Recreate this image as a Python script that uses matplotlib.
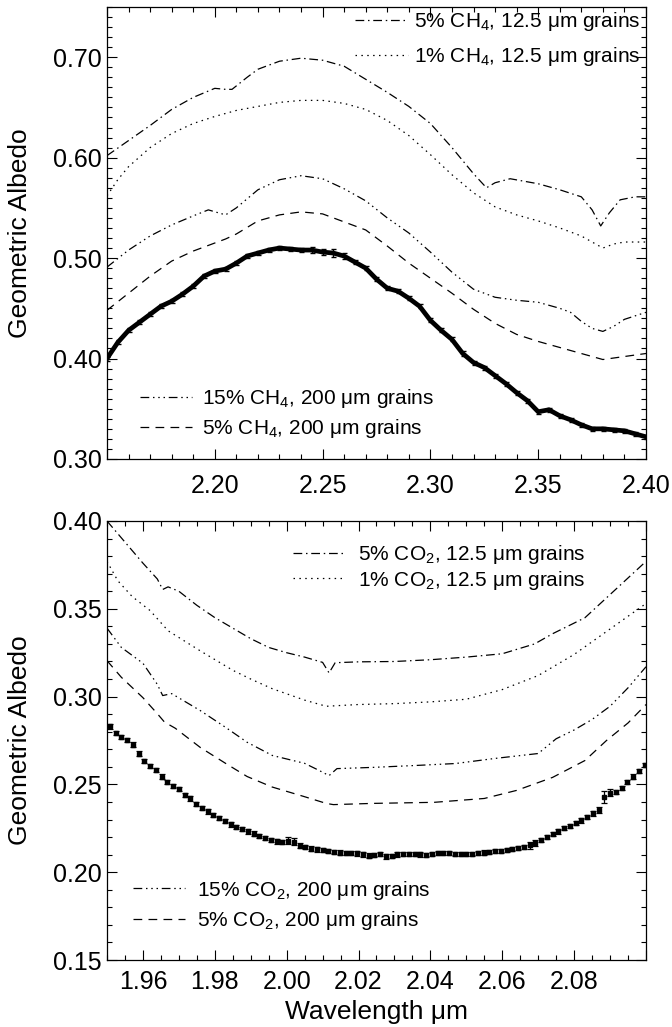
import numpy as np
import matplotlib.pyplot as plt
from matplotlib.ticker import MultipleLocator

plt.rcParams['font.family'] = ['Liberation Sans', 'DejaVu Sans']
plt.rcParams['mathtext.fontset'] = 'custom'
plt.rcParams['mathtext.rm'] = 'Liberation Sans'
plt.rcParams['mathtext.it'] = 'Liberation Sans:italic'
plt.rcParams['mathtext.bf'] = 'Liberation Sans:bold'

# ---------------- верхня панель: область CH4 ----------------
ch4_wl = [2.150, 2.155, 2.160, 2.165, 2.170, 2.175, 2.180, 2.185, 2.190, 2.195,
          2.200, 2.205, 2.210, 2.215, 2.220, 2.225, 2.230, 2.235, 2.240, 2.245,
          2.250, 2.255, 2.260, 2.265, 2.270, 2.275, 2.280, 2.285, 2.290, 2.295,
          2.300, 2.305, 2.310, 2.315, 2.320, 2.325, 2.330, 2.335, 2.340, 2.345,
          2.350, 2.355, 2.360, 2.365, 2.370, 2.375, 2.380, 2.385, 2.390, 2.395, 2.400]
ch4_obs = [0.400, 0.416, 0.428, 0.436, 0.444, 0.452, 0.457, 0.464, 0.472, 0.482,
           0.487, 0.489, 0.495, 0.502, 0.505, 0.508, 0.510, 0.509, 0.508, 0.508,
           0.506, 0.505, 0.502, 0.496, 0.490, 0.479, 0.470, 0.467, 0.460, 0.452,
           0.438, 0.428, 0.419, 0.405, 0.396, 0.391, 0.383, 0.375, 0.366, 0.358,
           0.347, 0.349, 0.343, 0.339, 0.334, 0.330, 0.330, 0.329, 0.328, 0.325, 0.322]
ch4_err = [0.002, 0.002, 0.002, 0.002, 0.002, 0.002, 0.002, 0.002, 0.002, 0.002,
           0.002, 0.002, 0.002, 0.002, 0.002, 0.002, 0.002, 0.002, 0.002, 0.003,
           0.003, 0.004, 0.003, 0.002, 0.002, 0.002, 0.002, 0.002, 0.002, 0.002,
           0.002, 0.002, 0.002, 0.002, 0.002, 0.002, 0.002, 0.002, 0.002, 0.002,
           0.002, 0.002, 0.002, 0.002, 0.002, 0.002, 0.002, 0.002, 0.002, 0.002, 0.002]

# 5% CH4, 12.5 мкм
ch4_a_wl = [2.150, 2.160, 2.170, 2.180, 2.190, 2.200, 2.205, 2.208, 2.215, 2.220,
            2.230, 2.240, 2.250, 2.260, 2.270, 2.280, 2.290, 2.300, 2.310, 2.320,
            2.326, 2.330, 2.337, 2.350, 2.360, 2.370, 2.375, 2.379, 2.383, 2.388, 2.395, 2.400]
ch4_a = [0.602, 0.617, 0.632, 0.648, 0.660, 0.669, 0.668, 0.668, 0.680, 0.688,
         0.696, 0.699, 0.697, 0.691, 0.678, 0.665, 0.651, 0.634, 0.610, 0.584,
         0.570, 0.575, 0.579, 0.574, 0.568, 0.561, 0.548, 0.532, 0.545, 0.558, 0.561, 0.561]
# 1% CH4, 12.5 мкм
ch4_b_wl = [2.150, 2.155, 2.160, 2.170, 2.180, 2.190, 2.200, 2.210, 2.220, 2.230,
            2.240, 2.250, 2.260, 2.270, 2.280, 2.290, 2.300, 2.310, 2.320, 2.330,
            2.340, 2.350, 2.360, 2.370, 2.380, 2.385, 2.390, 2.400]
ch4_b = [0.562, 0.578, 0.591, 0.610, 0.624, 0.634, 0.641, 0.647, 0.651, 0.655,
         0.657, 0.657, 0.654, 0.648, 0.637, 0.622, 0.603, 0.583, 0.565, 0.551,
         0.543, 0.537, 0.530, 0.522, 0.510, 0.514, 0.516, 0.516]
# 15% CH4, 200 мкм
ch4_c_wl = [2.150, 2.160, 2.170, 2.180, 2.190, 2.197, 2.205, 2.210, 2.220, 2.230,
            2.240, 2.250, 2.260, 2.270, 2.280, 2.290, 2.300, 2.310, 2.320, 2.330,
            2.340, 2.350, 2.360, 2.365, 2.370, 2.375, 2.380, 2.385, 2.390, 2.400]
ch4_c = [0.491, 0.508, 0.522, 0.533, 0.542, 0.548, 0.543, 0.550, 0.568, 0.578,
         0.582, 0.579, 0.569, 0.557, 0.540, 0.525, 0.506, 0.486, 0.469, 0.461,
         0.458, 0.456, 0.450, 0.446, 0.437, 0.430, 0.427, 0.432, 0.439, 0.446]
# 5% CH4, 200 мкм
ch4_d_wl = [2.150, 2.160, 2.170, 2.180, 2.190, 2.200, 2.205, 2.210, 2.220, 2.230,
            2.240, 2.250, 2.260, 2.270, 2.280, 2.290, 2.300, 2.310, 2.320, 2.330,
            2.340, 2.350, 2.360, 2.370, 2.380, 2.390, 2.400]
ch4_d = [0.448, 0.465, 0.482, 0.497, 0.507, 0.515, 0.519, 0.524, 0.537, 0.543,
         0.546, 0.544, 0.536, 0.528, 0.512, 0.495, 0.480, 0.465, 0.449, 0.435,
         0.424, 0.417, 0.411, 0.405, 0.399, 0.402, 0.405]

# ---------------- нижня панель: область CO2 ----------------
co2_wl = [1.9508, 1.9524, 1.9540, 1.9556, 1.9572, 1.9588, 1.9604, 1.9620, 1.9636, 1.9652,
          1.9668, 1.9684, 1.9700, 1.9716, 1.9732, 1.9748, 1.9764, 1.9780, 1.9796, 1.9812,
          1.9828, 1.9844, 1.9860, 1.9876, 1.9892, 1.9908, 1.9924, 1.9940, 1.9956, 1.9972,
          1.9988, 2.0004, 2.0020, 2.0036, 2.0052, 2.0068, 2.0084, 2.0100, 2.0116, 2.0132,
          2.0148, 2.0164, 2.0180, 2.0196, 2.0212, 2.0228, 2.0244, 2.0260, 2.0276, 2.0292,
          2.0308, 2.0324, 2.0340, 2.0356, 2.0372, 2.0388, 2.0404, 2.0420, 2.0436, 2.0452,
          2.0468, 2.0484, 2.0500, 2.0516, 2.0532, 2.0548, 2.0564, 2.0580, 2.0596, 2.0612,
          2.0628, 2.0644, 2.0660, 2.0676, 2.0692, 2.0708, 2.0724, 2.0740, 2.0756, 2.0772,
          2.0788, 2.0804, 2.0820, 2.0836, 2.0852, 2.0868, 2.0884, 2.0900, 2.0916, 2.0932,
          2.0948, 2.0964, 2.0980, 2.0996]
co2_obs = [0.2830, 0.2794, 0.2770, 0.2751, 0.2727, 0.2676, 0.2634, 0.2606, 0.2584, 0.2545,
           0.2513, 0.2492, 0.2472, 0.2441, 0.2420, 0.2390, 0.2366, 0.2346, 0.2328, 0.2309,
           0.2291, 0.2272, 0.2258, 0.2245, 0.2232, 0.2220, 0.2208, 0.2195, 0.2185, 0.2175,
           0.2170, 0.2178, 0.2174, 0.2152, 0.2142, 0.2135, 0.2130, 0.2126, 0.2121, 0.2115,
           0.2112, 0.2110, 0.2108, 0.2107, 0.2101, 0.2095, 0.2096, 0.2102, 0.2090, 0.2093,
           0.2101, 0.2105, 0.2103, 0.2104, 0.2101, 0.2097, 0.2102, 0.2110, 0.2111, 0.2108,
           0.2105, 0.2103, 0.2104, 0.2106, 0.2108, 0.2112, 0.2115, 0.2119, 0.2122, 0.2127,
           0.2131, 0.2137, 0.2144, 0.2153, 0.2168, 0.2184, 0.2200, 0.2216, 0.2232, 0.2250,
           0.2265, 0.2281, 0.2295, 0.2314, 0.2335, 0.2355, 0.2430, 0.2452, 0.2458, 0.2478,
           0.2516, 0.2545, 0.2575, 0.2610]
co2_err = [0.0012, 0.0012, 0.0012, 0.0012, 0.0012, 0.0012, 0.0012, 0.0012, 0.0012, 0.0012,
           0.0012, 0.0012, 0.0012, 0.0012, 0.0012, 0.0012, 0.0012, 0.0012, 0.0012, 0.0012,
           0.0012, 0.0012, 0.0012, 0.0012, 0.0012, 0.0012, 0.0012, 0.0012, 0.0012, 0.0012,
           0.0012, 0.0020, 0.0020, 0.0012, 0.0012, 0.0012, 0.0012, 0.0012, 0.0012, 0.0012,
           0.0012, 0.0012, 0.0012, 0.0012, 0.0012, 0.0012, 0.0012, 0.0012, 0.0012, 0.0012,
           0.0012, 0.0012, 0.0012, 0.0012, 0.0012, 0.0012, 0.0012, 0.0012, 0.0012, 0.0012,
           0.0012, 0.0012, 0.0012, 0.0012, 0.0012, 0.0012, 0.0012, 0.0012, 0.0012, 0.0012,
           0.0012, 0.0012, 0.0012, 0.0018, 0.0018, 0.0012, 0.0012, 0.0012, 0.0012, 0.0012,
           0.0012, 0.0012, 0.0012, 0.0012, 0.0012, 0.0018, 0.0035, 0.0020, 0.0012, 0.0012,
           0.0012, 0.0012, 0.0012, 0.0012]

# 5% CO2, 12.5 мкм
co2_e_wl = [1.950, 1.955, 1.960, 1.964, 1.9655, 1.967, 1.970, 1.975, 1.980, 1.985,
            1.990, 1.995, 2.000, 2.005, 2.010, 2.0118, 2.0135, 2.020, 2.030, 2.040,
            2.050, 2.060, 2.069, 2.074, 2.083, 2.091, 2.100]
co2_e = [0.400, 0.388, 0.376, 0.367, 0.361, 0.3625, 0.360, 0.352, 0.345, 0.339,
         0.333, 0.328, 0.325, 0.3225, 0.3195, 0.3135, 0.3193, 0.3198, 0.3200, 0.3210,
         0.3225, 0.3244, 0.3300, 0.3358, 0.3449, 0.3600, 0.3770]
# 1% CO2, 12.5 мкм
co2_f_wl = [1.950, 1.953, 1.957, 1.962, 1.967, 1.976, 1.985, 1.990, 1.996, 2.005,
            2.011, 2.020, 2.030, 2.040, 2.050, 2.060, 2.070, 2.080, 2.090, 2.100]
co2_f = [0.377, 0.366, 0.357, 0.349, 0.3375, 0.326, 0.315, 0.310, 0.3045, 0.298,
         0.2945, 0.2955, 0.2960, 0.2970, 0.2985, 0.3040, 0.3120, 0.3240, 0.3385, 0.3530]
# 15% CO2, 200 мкм
co2_g_wl = [1.950, 1.954, 1.960, 1.964, 1.9655, 1.968, 1.976, 1.983, 1.989, 1.996,
            2.005, 2.009, 2.0118, 2.014, 2.024, 2.036, 2.047, 2.058, 2.070, 2.075,
            2.080, 2.085, 2.090, 2.095, 2.100]
co2_g = [0.339, 0.328, 0.319, 0.307, 0.3006, 0.3017, 0.292, 0.2825, 0.274, 0.2665,
         0.262, 0.258, 0.255, 0.259, 0.2597, 0.2608, 0.2619, 0.2648, 0.2676, 0.2760,
         0.281, 0.287, 0.2945, 0.305, 0.317]
# 5% CO2, 200 мкм
co2_h_wl = [1.950, 1.954, 1.960, 1.964, 1.966, 1.969, 1.976, 1.983, 1.989, 1.996,
            2.005, 2.011, 2.013, 2.024, 2.041, 2.055, 2.064, 2.074, 2.083, 2.089,
            2.095, 2.100]
co2_h = [0.3205, 0.311, 0.2994, 0.2903, 0.2855, 0.2820, 0.271, 0.262, 0.2545, 0.2485,
         0.243, 0.2392, 0.2385, 0.2392, 0.2398, 0.242, 0.2466, 0.254, 0.2636, 0.275,
         0.285, 0.2955]

# стилі ліній (як у IDL)
dashdot = (0, (7, 3, 1.2, 3))
dashdot3 = (0, (7, 3, 1.2, 3, 1.2, 3, 1.2, 3))
dashed = (0, (7, 5))
dotted = (0, (1.2, 3.5))
lw = 0.9

fig = plt.figure(figsize=(6.72, 10.27), dpi=100)
ax1 = fig.add_axes([0.1592, 0.5531, 0.8021, 0.4401])
ax2 = fig.add_axes([0.1592, 0.0652, 0.8021, 0.4275])

# ---- верхня панель ----
la, = ax1.plot(ch4_a_wl, ch4_a, color='k', lw=lw, linestyle=dashdot,
               label='5% CH$_4$, 12.5 μm grains')
lb, = ax1.plot(ch4_b_wl, ch4_b, color='k', lw=lw, linestyle=dotted,
               label='1% CH$_4$, 12.5 μm grains')
lc, = ax1.plot(ch4_c_wl, ch4_c, color='k', lw=lw, linestyle=dashdot3,
               label='15% CH$_4$, 200 μm grains')
ld, = ax1.plot(ch4_d_wl, ch4_d, color='k', lw=lw, linestyle=dashed,
               label='5% CH$_4$, 200 μm grains')
ax1.errorbar(ch4_wl, ch4_obs, yerr=ch4_err, fmt='-', color='k', lw=3.4,
             elinewidth=1.0, capsize=1.8, capthick=1.0)

leg1 = ax1.legend(handles=[la, lb], loc='center right', bbox_to_anchor=(0.989, 0.929),
                  frameon=False, fontsize=15, handlelength=2.5, handletextpad=0.3,
                  labelspacing=0.6, borderpad=0, borderaxespad=0)
ax1.add_artist(leg1)
ax1.legend(handles=[lc, ld], loc='center left', bbox_to_anchor=(0.061, 0.1007),
           frameon=False, fontsize=15, handlelength=2.5, handletextpad=0.5,
           labelspacing=0.35, borderpad=0, borderaxespad=0)

ax1.set_xlim(2.15, 2.40)
ax1.set_ylim(0.30, 0.75)
ax1.set_xticks([2.15, 2.20, 2.25, 2.30, 2.35, 2.40])
ax1.set_xticklabels(['', '2.20', '2.25', '2.30', '2.35', '2.40'])
ax1.set_yticks([0.30, 0.40, 0.50, 0.60, 0.70])
ax1.set_yticklabels(['0.30', '0.40', '0.50', '0.60', '0.70'])
ax1.xaxis.set_minor_locator(MultipleLocator(0.01))
ax1.yaxis.set_minor_locator(MultipleLocator(0.01))
ax1.set_ylabel('Geometric Albedo', fontsize=19)
ax1.yaxis.set_label_coords(-0.14, 0.5)
ax1.tick_params(axis='x', which='major', pad=11)

# ---- нижня панель ----
le, = ax2.plot(co2_e_wl, co2_e, color='k', lw=lw, linestyle=dashdot,
               label='5% CO$_2$, 12.5 μm grains')
lf, = ax2.plot(co2_f_wl, co2_f, color='k', lw=lw, linestyle=dotted,
               label='1% CO$_2$, 12.5 μm grains')
lg, = ax2.plot(co2_g_wl, co2_g, color='k', lw=lw, linestyle=dashdot3,
               label='15% CO$_2$, 200 μm grains')
lh, = ax2.plot(co2_h_wl, co2_h, color='k', lw=lw, linestyle=dashed,
               label='5% CO$_2$, 200 μm grains')
ax2.errorbar(co2_wl, co2_obs, yerr=co2_err, fmt='s', color='k', ms=2.6,
             elinewidth=0.9, capsize=2.0, capthick=0.9)

leg2 = ax2.legend(handles=[le, lf], loc='center left', bbox_to_anchor=(0.345, 0.894),
                  frameon=False, fontsize=15, handlelength=2.5, handletextpad=0.6,
                  labelspacing=0.1, borderpad=0, borderaxespad=0)
ax2.add_artist(leg2)
ax2.legend(handles=[lg, lh], loc='center left', bbox_to_anchor=(0.048, 0.125),
           frameon=False, fontsize=15, handlelength=2.5, handletextpad=0.6,
           labelspacing=0.35, borderpad=0, borderaxespad=0)

ax2.set_xlim(1.95, 2.10)
ax2.set_ylim(0.15, 0.40)
ax2.set_xticks([1.96, 1.98, 2.00, 2.02, 2.04, 2.06, 2.08, 2.10])
ax2.set_xticklabels(['1.96', '1.98', '2.00', '2.02', '2.04', '2.06', '2.08', ''])
ax2.set_yticks([0.15, 0.20, 0.25, 0.30, 0.35, 0.40])
ax2.set_yticklabels(['0.15', '0.20', '0.25', '0.30', '0.35', '0.40'])
ax2.xaxis.set_minor_locator(MultipleLocator(0.005))
ax2.yaxis.set_minor_locator(MultipleLocator(0.01))
ax2.set_ylabel('Geometric Albedo', fontsize=19)
ax2.yaxis.set_label_coords(-0.14, 0.5)
ax2.set_xlabel('Wavelength μm', fontsize=19)
ax2.xaxis.set_label_coords(0.5, -0.09)
ax2.tick_params(axis='x', which='major', pad=7)

for ax in (ax1, ax2):
    ax.tick_params(which='both', direction='in', top=True, right=True,
                   labelsize=18, width=0.8, color='k')
    ax.tick_params(which='major', length=7)
    ax.tick_params(which='minor', length=3.6)
    for sp in ax.spines.values():
        sp.set_linewidth(0.9)

plt.savefig('out.png', dpi=100)
